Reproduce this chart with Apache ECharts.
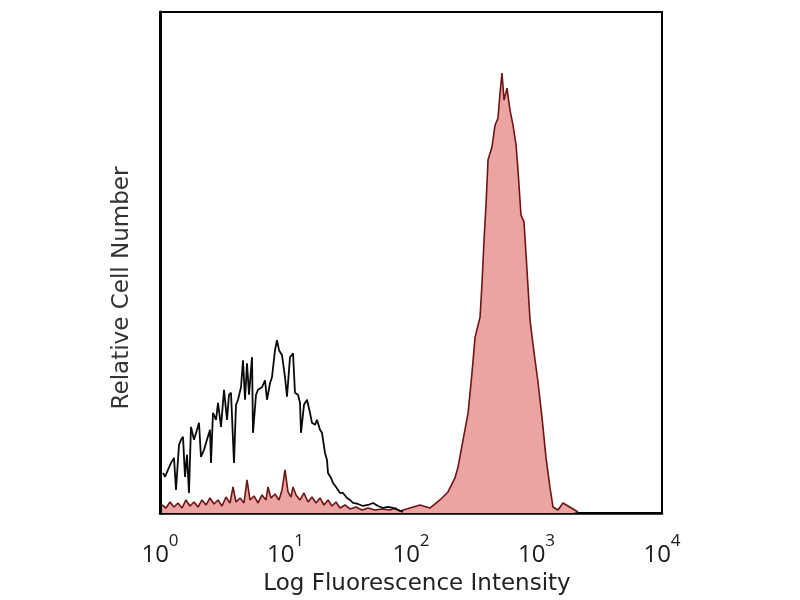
<!DOCTYPE html>
<html>
<head>
<meta charset="utf-8">
<script src="https://cdn.jsdelivr.net/npm/echarts@6/dist/echarts.min.js"></script>
<style>html,body{margin:0;padding:0;background:#fff}#c{width:800px;height:600px}</style>
</head>
<body>
<div id="c"></div>
<script>
// Isotype control (black outline) — fluorescence intensity and relative count
var blackX = [1.057,1.096,1.158,1.224,1.293,1.341,1.417,1.470,1.525,1.582,1.641,1.702,1.766,1.866,1.971,2.045,2.121,2.241,2.368,2.502,2.549,2.644,2.794,2.899,3.063,3.236,3.420,3.546,3.679,3.887,4.033,4.183,4.420,4.586,4.757,4.935,5.120,5.409,5.509,5.821,6.038,6.497,6.866,7.122,7.524,7.806,8.248,8.557,8.877,9.378,9.909,10.28,10.86,11.48,11.90,12.58,13.05,13.29,14.04,14.84,15.68,16.26,17.19,17.82,18.83,19.54,20.64,21.41,21.81,23.05,23.90,25.26,27.19,28.72,30.90,32.66,34.51,37.82,41.46,45.45,49.81,54.60,59.84,65.57,71.89,78.79,86.38];
var blackY = [8.0,7.2,8.6,10.0,11.0,4.6,13.6,14.6,15.2,7.2,11.6,4.0,17.2,14.6,16.6,18.0,11.2,12.6,14.6,16.6,10.0,20.0,18.6,22.0,17.2,24.6,18.6,23.6,24.0,10.0,21.6,22.6,25.1,30.5,22.6,29.9,23.6,31.1,16.0,23.6,24.6,25.1,26.5,22.6,25.9,27.1,32.5,34.5,32.5,31.5,27.1,23.2,31.1,31.9,24.0,23.6,22.0,16.0,21.6,22.6,20.0,18.0,17.6,18.6,16.6,16.0,12.0,10.6,8.0,7.0,6.0,5.2,4.0,4.0,3.0,2.6,2.0,1.8,1.4,1.6,2.0,1.4,1.0,1.2,1.0,0.6,0.2];

// Stained sample (red filled)
var redX = [1.037,1.116,1.201,1.293,1.391,1.497,1.611,1.734,1.866,2.008,2.161,2.325,2.502,2.693,2.899,3.119,3.357,3.613,3.817,4.033,4.341,4.670,4.935,5.214,5.611,6.038,6.497,6.993,7.254,7.664,8.248,8.877,9.378,9.909,10.47,11.06,11.48,12.13,13.05,14.04,15.11,16.26,17.50,18.83,20.27,21.81,23.47,25.26,27.19,29.79,32.66,36.46,40.70,45.45,51.65,58.74,68.03,74.58,81.7,98,118,142,170,197,224,237,260,285,306,324,355,368,382,396,411,442,467,493,512,531,551,582,615,650,687,712,752,795,840,888,955,1028,1107,1191,1282,1353,1483,1625,1783,1955,2143];
var redY = [1.6,1.0,2.2,1.2,2.0,1.0,2.6,1.4,2.2,1.2,2.6,1.6,3.0,1.8,2.6,1.4,3.2,2.0,5.2,2.2,3.0,2.0,6.6,2.6,3.4,2.0,3.6,2.6,5.2,3.0,3.8,2.6,4.6,8.6,4.2,3.2,5.2,3.6,2.6,4.0,2.2,3.2,2.0,3.0,1.6,2.6,1.4,2.2,1.0,1.6,0.8,1.2,0.6,1.0,0.6,0.8,0.6,1.0,0.4,1.0,1.6,1.0,2.6,4.2,7.0,9.2,14.6,20.0,27.9,35.1,39.1,45.9,54.5,61.5,70.5,73.1,77.4,78.8,83.8,87.8,82.4,84.8,80.4,77.4,73.5,68.5,59.5,58.1,48.5,38.5,32.1,26.1,19.0,11.0,5.0,1.2,0.6,2.0,1.4,0.8,0.2];

var tickExps = ['0','1','2','3','4'];
var xTitle = 'Log Fluorescence Intensity';
var yTitle = 'Relative Cell Number';

function pairs(xs, ys){ var o=[]; for(var i=0;i<xs.length;i++) o.push([xs[i], ys[i]]); return o; }

var chart = echarts.init(document.getElementById('c'), null, {renderer:'canvas'});
chart.setOption({
  animation:false,
  backgroundColor:'#fff',
  grid:{left:160, right:138, top:12, bottom:87, show:true, borderColor:'#000', borderWidth:2, backgroundColor:'transparent'},
  xAxis:{
    type:'log', logBase:10, min:1, max:10000,
    axisLine:{show:true, onZero:false, lineStyle:{color:'#000', width:2.5}},
    axisTick:{show:false},
    splitLine:{show:false},
    axisLabel:{
      margin:20,
      formatter:function(v){ var e=Math.round(Math.log10(v)); return '{b|10}{s|'+tickExps[e]+'}'; },
      rich:{
        b:{fontFamily:'Open Sans', fontSize:24, color:'#1a1a1a', verticalAlign:'bottom', lineHeight:34},
        s:{fontFamily:'Open Sans', fontSize:17, color:'#1a1a1a', verticalAlign:'top', lineHeight:34}
      }
    }
  },
  yAxis:{
    type:'value', min:0, max:100,
    axisLine:{show:true, lineStyle:{color:'#000', width:3}},
    axisTick:{show:false}, axisLabel:{show:false}, splitLine:{show:false}
  },
  series:[
    {type:'line', data:pairs(redX, redY), showSymbol:false, symbol:'none',
     lineStyle:{color:'#6e1414', width:1.6}, areaStyle:{color:'#eaa4a2', opacity:1}, z:2},
    {type:'line', data:pairs(blackX, blackY), showSymbol:false, symbol:'none',
     lineStyle:{color:'#0a0a0a', width:1.8}, z:3}
  ],
  graphic:[
    {type:'text', x:417, y:584, style:{text:xTitle, fontFamily:'DejaVu Sans', fontSize:23, fill:'#222', align:'center', verticalAlign:'middle'}},
    {type:'text', x:122, y:288, rotation:Math.PI/2, style:{text:yTitle, fontFamily:'DejaVu Sans', fontSize:23, fill:'#333', align:'center', verticalAlign:'middle'}}
  ]
});
</script>
</body>
</html>
